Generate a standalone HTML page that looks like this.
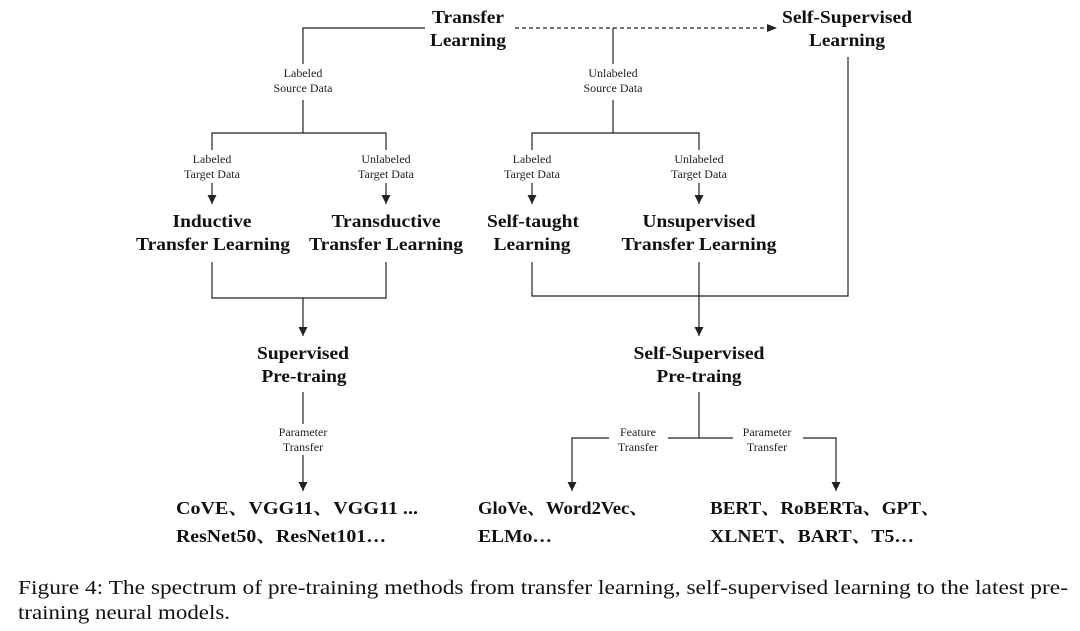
<!DOCTYPE html>
<html><head><meta charset="utf-8"><style>
html,body{margin:0;padding:0;background:#fff;}
svg{display:block;}
.b{font-family:"Liberation Serif","Noto Serif CJK SC",serif;font-weight:bold;font-size:18px;fill:#111;}
.s{font-family:"Liberation Serif",serif;font-size:12px;fill:#222;}
.c{font-family:"Liberation Serif",serif;font-size:20px;fill:#111;}
line,polyline{stroke:#222;stroke-width:1.2;fill:none;}
</style></head><body>
<svg width="1080" height="631" viewBox="0 0 1080 631" xmlns="http://www.w3.org/2000/svg">
<defs><marker id="a" markerWidth="9" markerHeight="10" refX="9" refY="5" orient="auto" markerUnits="userSpaceOnUse"><path d="M0,0.5 L9,5 L0,9.5 z" fill="#222"/></marker>
<marker id="d" markerWidth="10" markerHeight="10" refX="9" refY="5" orient="auto" markerUnits="userSpaceOnUse"><path d="M0,1 L10,5 L0,9 z" fill="#222"/></marker></defs>

<text class="b" x="468" y="23" text-anchor="middle" textLength="72" lengthAdjust="spacingAndGlyphs">Transfer</text>
<text class="b" x="468" y="46" text-anchor="middle" textLength="76" lengthAdjust="spacingAndGlyphs">Learning</text>
<text class="b" x="847" y="23" text-anchor="middle" textLength="130" lengthAdjust="spacingAndGlyphs">Self-Supervised</text>
<text class="b" x="847" y="46" text-anchor="middle" textLength="76" lengthAdjust="spacingAndGlyphs">Learning</text>
<polyline points="425,28 303,28 303,64"/>
<line x1="515" y1="28" x2="776" y2="28" stroke-dasharray="4,3" marker-end="url(#d)"/>
<line x1="613" y1="28" x2="613" y2="64"/>
<text class="s" x="303" y="77" text-anchor="middle">Labeled</text>
<text class="s" x="303" y="92" text-anchor="middle">Source Data</text>
<text class="s" x="613" y="77" text-anchor="middle">Unlabeled</text>
<text class="s" x="613" y="92" text-anchor="middle">Source Data</text>
<line x1="303" y1="100" x2="303" y2="133"/>
<line x1="613" y1="100" x2="613" y2="133"/>
<polyline points="212,150 212,133 386,133 386,150"/>
<polyline points="532,150 532,133 699,133 699,150"/>
<g>
<text class="s" x="212" y="163" text-anchor="middle">Labeled</text><text class="s" x="212" y="178" text-anchor="middle">Target Data</text>
<text class="s" x="386" y="163" text-anchor="middle">Unlabeled</text><text class="s" x="386" y="178" text-anchor="middle">Target Data</text>
<text class="s" x="532" y="163" text-anchor="middle">Labeled</text><text class="s" x="532" y="178" text-anchor="middle">Target Data</text>
<text class="s" x="699" y="163" text-anchor="middle">Unlabeled</text><text class="s" x="699" y="178" text-anchor="middle">Target Data</text>
</g>
<line x1="212" y1="183" x2="212" y2="204" marker-end="url(#a)"/>
<line x1="386" y1="183" x2="386" y2="204" marker-end="url(#a)"/>
<line x1="532" y1="183" x2="532" y2="204" marker-end="url(#a)"/>
<line x1="699" y1="183" x2="699" y2="204" marker-end="url(#a)"/>

<text class="b" x="212" y="227" text-anchor="middle" textLength="79" lengthAdjust="spacingAndGlyphs">Inductive</text>
<text class="b" x="213" y="250" text-anchor="middle" textLength="154" lengthAdjust="spacingAndGlyphs">Transfer Learning</text>
<text class="b" x="386" y="227" text-anchor="middle" textLength="109" lengthAdjust="spacingAndGlyphs">Transductive</text>
<text class="b" x="386" y="250" text-anchor="middle" textLength="154" lengthAdjust="spacingAndGlyphs">Transfer Learning</text>
<text class="b" x="533" y="227" text-anchor="middle" textLength="92" lengthAdjust="spacingAndGlyphs">Self-taught</text>
<text class="b" x="532" y="250" text-anchor="middle" textLength="77" lengthAdjust="spacingAndGlyphs">Learning</text>
<text class="b" x="699" y="227" text-anchor="middle" textLength="113" lengthAdjust="spacingAndGlyphs">Unsupervised</text>
<text class="b" x="699" y="250" text-anchor="middle" textLength="155" lengthAdjust="spacingAndGlyphs">Transfer Learning</text>

<polyline points="212,262 212,298 386,298 386,262"/>
<line x1="303" y1="298" x2="303" y2="336" marker-end="url(#a)"/>
<polyline points="532,262 532,296 848,296 848,57"/>
<line x1="699" y1="262" x2="699" y2="336" marker-end="url(#a)"/>

<text class="b" x="303" y="359" text-anchor="middle" textLength="92" lengthAdjust="spacingAndGlyphs">Supervised</text>
<text class="b" x="304" y="382" text-anchor="middle" textLength="85" lengthAdjust="spacingAndGlyphs">Pre-traing</text>
<text class="b" x="699" y="359" text-anchor="middle" textLength="131" lengthAdjust="spacingAndGlyphs">Self-Supervised</text>
<text class="b" x="699" y="382" text-anchor="middle" textLength="85" lengthAdjust="spacingAndGlyphs">Pre-traing</text>

<line x1="303" y1="392" x2="303" y2="424"/>
<text class="s" x="303" y="436" text-anchor="middle">Parameter</text>
<text class="s" x="303" y="451" text-anchor="middle">Transfer</text>
<line x1="303" y1="455" x2="303" y2="491" marker-end="url(#a)"/>

<line x1="699" y1="392" x2="699" y2="438"/>
<polyline points="609,438 572,438 572,491" marker-end="url(#a)"/>
<line x1="668" y1="438" x2="733" y2="438"/>
<polyline points="803,438 836,438 836,491" marker-end="url(#a)"/>
<text class="s" x="638" y="436" text-anchor="middle">Feature</text>
<text class="s" x="638" y="451" text-anchor="middle">Transfer</text>
<text class="s" x="767" y="436" text-anchor="middle">Parameter</text>
<text class="s" x="767" y="451" text-anchor="middle">Transfer</text>

<text class="b" x="176" y="514" textLength="242" lengthAdjust="spacingAndGlyphs">CoVE、VGG11、VGG11 ...</text>
<text class="b" x="176" y="542" textLength="210" lengthAdjust="spacingAndGlyphs">ResNet50、ResNet101…</text>
<text class="b" x="478" y="514" textLength="170" lengthAdjust="spacingAndGlyphs">GloVe、Word2Vec、</text>
<text class="b" x="478" y="542" textLength="74" lengthAdjust="spacingAndGlyphs">ELMo…</text>
<text class="b" x="710" y="514" textLength="230" lengthAdjust="spacingAndGlyphs">BERT、RoBERTa、GPT、</text>
<text class="b" x="710" y="542" textLength="204" lengthAdjust="spacingAndGlyphs">XLNET、BART、T5…</text>

<text class="c" x="18" y="594" textLength="1050" lengthAdjust="spacingAndGlyphs">Figure 4: The spectrum of pre-training methods from transfer learning, self-supervised learning to the latest pre-</text>
<text class="c" x="18" y="619" textLength="212" lengthAdjust="spacingAndGlyphs">training neural models.</text>
</svg>
</body></html>
